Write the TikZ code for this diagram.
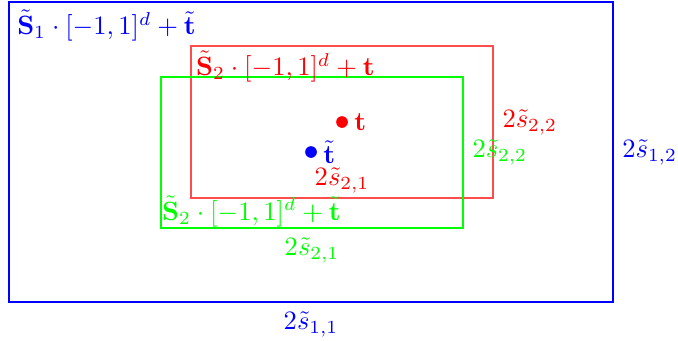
\documentclass[tikz,border=0pt]{standalone}
\usepackage{amsmath}
\usetikzlibrary{positioning}

\tikzset{
  region/.style={draw, rectangle, inner sep=0pt, line width=0.4pt},
  centre/.style={circle, fill, inner sep=0pt, minimum size=3.9pt},
  tag/.style={inner sep=2pt, scale=0.885}
}

\begin{document}
\begin{tikzpicture}[x=0.3333pt, y=-0.3333pt]
\useasboundingbox (0,0) rectangle (678,340);

% Boxes (each centred on its translation)
\node[region, draw=blue, minimum width=201.3pt, minimum height=100pt] (S1) at (311,152) {};
\node[region, draw=red!70, minimum width=100.7pt, minimum height=50.7pt] (S2) at (342,122) {};
\node[region, draw=green, minimum width=100.7pt, minimum height=50.3pt] (S3) at (312,152.5) {};

% Centres
\node[centre, red] (t) at (342,122) {};
\node[centre, blue] (tt) at (311,152) {};
\node[tag, red, right=0pt of t] (tlab) {$\mathbf{t}$};
\node[tag, blue, right=0pt of tt] (ttlab) {$\tilde{\mathbf{t}}$};

% Box names
\node[tag, blue, anchor=north west] (S1name) at ([xshift=1pt, yshift=-1pt]S1.north west) {$\tilde{\mathbf{S}}_1\cdot[-1,1]^d+\tilde{\mathbf{t}}$};
\node[tag, red, anchor=north west] (S2name) at (S2.north west) {$\tilde{\mathbf{S}}_2\cdot[-1,1]^d+\mathbf{t}$};
\node[tag, green, anchor=south west, inner sep=0.5pt] (S3name) at (S3.south west) {$\tilde{\mathbf{S}}_2\cdot[-1,1]^d+\tilde{\mathbf{t}}$};

% Side lengths
\node[tag, red, above=0pt of S2.south] (w2) {$2\tilde{s}_{2,1}$};
\node[tag, green, below=1pt of S3.south] (w3) {$2\tilde{s}_{2,1}$};
\node[tag, blue, below=1pt of S1.south] (w1) {$2\tilde{s}_{1,1}$};
\node[tag, red, right=1pt of S2.east] (h2) {$2\tilde{s}_{2,2}$};
\node[tag, green, right=1pt of S3.east] (h3) {$2\tilde{s}_{2,2}$};
\node[tag, blue, right=1pt of S1.east] (h1) {$2\tilde{s}_{1,2}$};
\end{tikzpicture}
\end{document}
